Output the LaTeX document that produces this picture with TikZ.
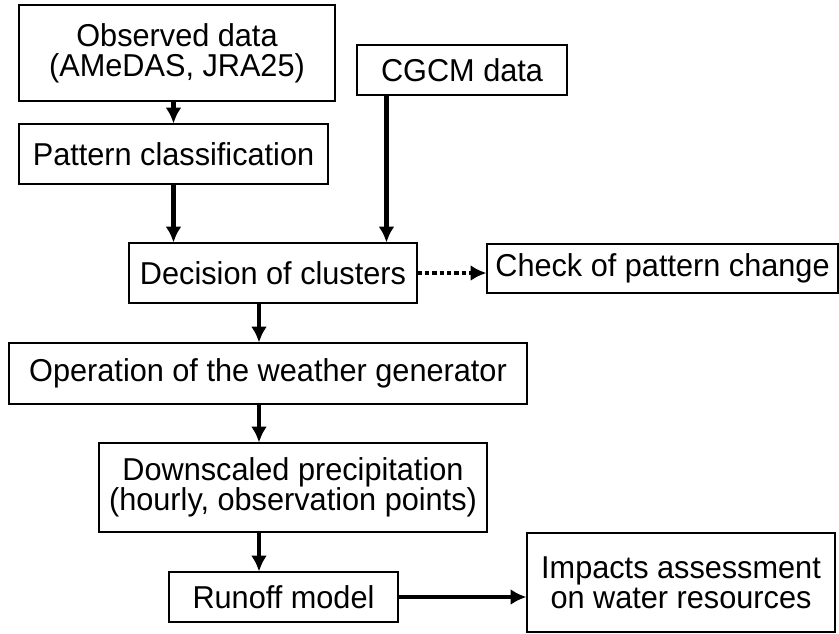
\documentclass[tikz,border=0pt]{standalone}
\usepackage{fontspec}
\setmainfont{Liberation Sans}
\newfontfamily\boxfont[FakeStretch=0.97]{Liberation Sans}
\usetikzlibrary{arrows.meta,calc}
\tikzset{>={Latex[length=9pt,width=9pt]}}
\tikzset{
  box/.style={draw,line width=0.6pt,align=center,inner sep=0pt,
    font=\boxfont\fontsize{18}{17}\selectfont},
  flow/.style={->,line width=2.4pt},
  maybe/.style={->,line width=2.4pt,dash pattern=on 2.4pt off 1.8pt}
}

\begin{document}
\begin{tikzpicture}
  \useasboundingbox (0,0) rectangle (16.78,-12.66);
  \node[box,minimum width=6.32cm,minimum height=1.92cm] (obs) at (3.54,-1.06) {Observed data\\(AMeDAS, JRA25)};
  \node[box,minimum width=4.2cm,minimum height=1cm] (cgcm) at (9.24,-1.4) {CGCM data};
  \node[box,minimum width=6.18cm,minimum height=1.2cm] (pat) at (3.47,-3.08) {Pattern classification};
  \node[box,minimum width=5.76cm,minimum height=1.2cm] (dec) at (5.46,-5.46) {Decision of clusters};
  \node[box,minimum width=7.02cm,minimum height=0.98cm] (chk) at (13.25,-5.37) {Check of pattern change};
  \node[box,minimum width=10.36cm,minimum height=1.22cm] (op) at (5.36,-7.47) {Operation of the weather generator};
  \node[box,minimum width=7.76cm,minimum height=1.78cm] (down) at (5.86,-9.75) {Downscaled precipitation\\(hourly, observation points)};
  \node[box,minimum width=4.58cm,minimum height=1cm] (run) at (5.67,-11.94) {Runoff model};
  \node[box,minimum width=6.16cm,minimum height=1.98cm] (imp) at (13.62,-11.65) {Impacts assessment\\on water resources};
  % arrows
  \coordinate (spine) at (5.18,0);
  \coordinate (cg) at ($(cgcm.south west)+(0.6,0)$);
  \draw[flow] (pat.north |- obs.south) -- (pat.north);
  \draw[flow] (pat.south) -- (pat.south |- dec.north);
  \draw[flow] (cg) -- (cg |- dec.north);
  \draw[maybe] (dec.east) -- (dec.east -| chk.west);
  \draw[flow] (spine |- dec.south) -- (spine |- op.north);
  \draw[flow] (spine |- op.south) -- (spine |- down.north);
  \draw[flow] (spine |- down.south) -- (spine |- run.north);
  \draw[flow] (run.east) -- (run.east -| imp.west);
\end{tikzpicture}
\end{document}
